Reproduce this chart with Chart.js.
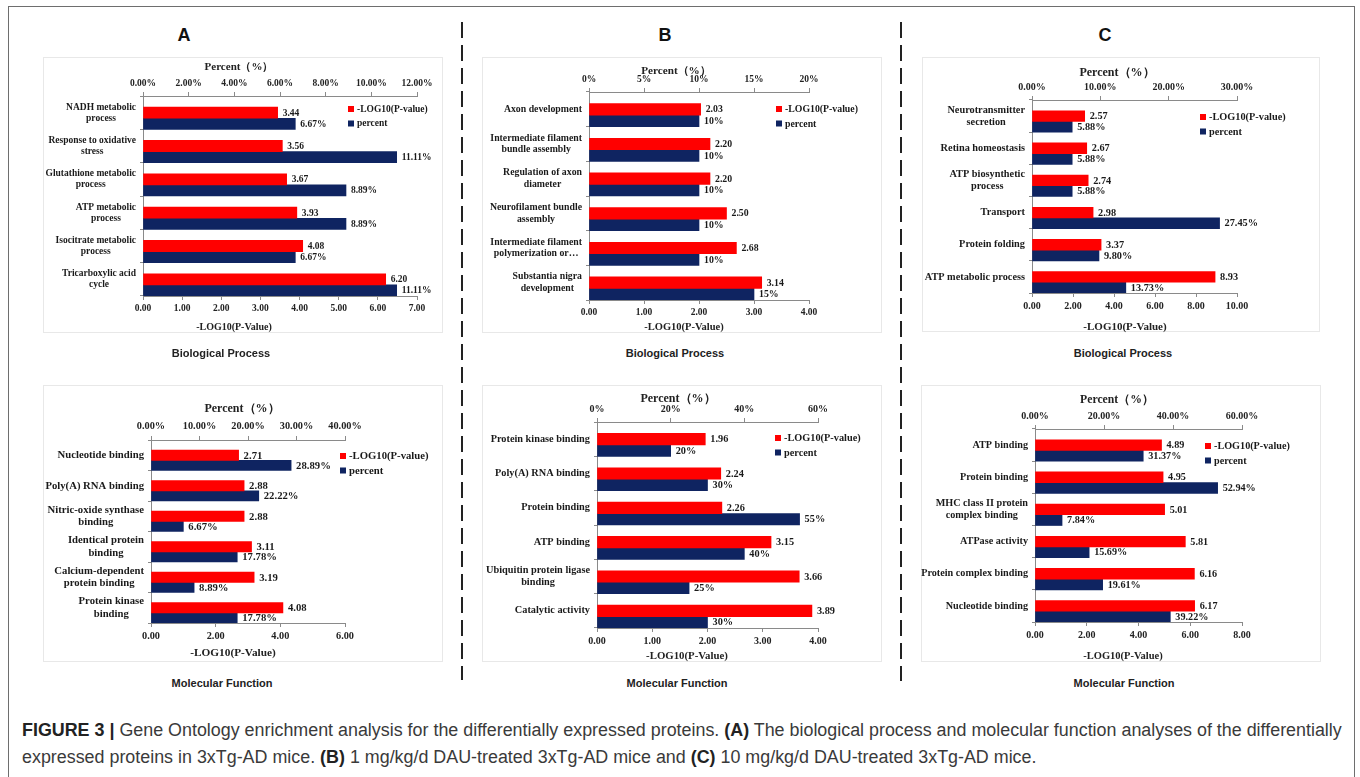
<!DOCTYPE html>
<html lang="en">
<head>
<meta charset="UTF-8">
<title>Gene Ontology enrichment</title>
<script src="https://cdn.jsdelivr.net/npm/chart.js@4.4.1/dist/chart.umd.min.js"></script>
<style>
    html, body {
        margin: 0;
        padding: 0;
        width: 1360px;
        height: 777px;
        overflow: hidden;
        background: #fff;
        position: relative;
        font-family: 'Liberation Sans', Arial, sans-serif;
    }
    .frame {
        position: absolute;
        left: 8px; top: 6px;
        width: 1347px; height: 800px;
        border: 1px solid #6e6e6e;
        box-sizing: border-box;
    }
    .box {
        position: absolute;
        box-shadow: inset 0 0 0 1px #e8e8e8;
    }
    .box canvas { position: absolute; left: 0; top: 0; }
    .t {
        position: absolute;
        transform: translate(-50%, -50%);
        white-space: nowrap;
    }
    .serif {
        font-family: 'Liberation Serif', 'Times New Roman', serif;
        font-weight: bold;
        color: #222;
    }
    .sub { font-weight: bold; font-size: 11px; color: #222; }
    .letter { font-weight: bold; font-size: 18px; color: #111; }
    .dash {
        position: absolute;
        width: 2px;
        background: repeating-linear-gradient(to bottom, #222 0 16px, transparent 16px 23px);
    }
    .cap {
        position: absolute;
        left: 22px;
        font-size: 18px;
        color: #3a3a3a;
        white-space: nowrap;
        transform-origin: left center;
        transform: translateY(-50%);
    }
    .cap b { color: #222; }
</style>
</head>
<body>
<div class="frame"></div>

<div class="dash" style="left:461px; top:22px; height:658px;"></div>
<div class="dash" style="left:900px; top:22px; height:659px;"></div>

<div class="t letter" style="left:184px; top:35px;">A</div>
<div class="t letter" style="left:665px; top:35px;">B</div>
<div class="t letter" style="left:1105px; top:35px;">C</div>

<div class="box" style="left:43px; top:57px; width:400px; height:276px;"><canvas id="aBp" width="400" height="276"></canvas></div>
<div class="box" style="left:482px; top:57px; width:400px; height:276px;"><canvas id="bBp" width="400" height="276"></canvas></div>
<div class="box" style="left:922px; top:57px; width:398px; height:275px;"><canvas id="cBp" width="398" height="275"></canvas></div>
<div class="box" style="left:43px; top:385px; width:400px; height:277px;"><canvas id="aMf" width="400" height="277"></canvas></div>
<div class="box" style="left:482px; top:385px; width:400px; height:277px;"><canvas id="bMf" width="400" height="277"></canvas></div>
<div class="box" style="left:921px; top:385px; width:400px; height:277px;"><canvas id="cMf" width="400" height="277"></canvas></div>

<!-- axis titles -->
<div class="t serif" style="left:239px; top:66px; font-size:11px;">Percent（%）</div>
<div class="t serif" style="left:234px; top:326px; font-size:10px;">-LOG10(P-Value)</div>
<div class="t serif" style="left:676px; top:70px; font-size:11.2px;">Percent（%）</div>
<div class="t serif" style="left:684px; top:326px; font-size:10.5px;">-LOG10(P-Value)</div>
<div class="t serif" style="left:1117px; top:72px; font-size:12px;">Percent（%）</div>
<div class="t serif" style="left:1125px; top:326px; font-size:11px;">-LOG10(P-Value)</div>
<div class="t serif" style="left:242px; top:408px; font-size:12px;">Percent（%）</div>
<div class="t serif" style="left:233px; top:652px; font-size:11.3px;">-LOG10(P-Value)</div>
<div class="t serif" style="left:678px; top:398px; font-size:12px;">Percent（%）</div>
<div class="t serif" style="left:687px; top:655px; font-size:10.8px;">-LOG10(P-Value)</div>
<div class="t serif" style="left:1117px; top:399px; font-size:11.7px;">Percent（%）</div>
<div class="t serif" style="left:1123px; top:655px; font-size:10.5px;">-LOG10(P-Value)</div>

<div class="t sub" style="left:221px; top:353px;">Biological Process</div>
<div class="t sub" style="left:675px; top:353px;">Biological Process</div>
<div class="t sub" style="left:1123px; top:353px;">Biological Process</div>
<div class="t sub" style="left:222px; top:683px;">Molecular Function</div>
<div class="t sub" style="left:677px; top:683px;">Molecular Function</div>
<div class="t sub" style="left:1124px; top:683px;">Molecular Function</div>

<div class="cap" id="cap1" style="top:730px;"><b>FIGURE 3 |</b> Gene Ontology enrichment analysis for the differentially expressed proteins. <b>(A)</b> The biological process and molecular function analyses of the differentially</div>
<div class="cap" id="cap2" style="top:757px;">expressed proteins in 3xTg-AD mice. <b>(B)</b> 1 mg/kg/d DAU-treated 3xTg-AD mice and <b>(C)</b> 10 mg/kg/d DAU-treated 3xTg-AD mice.</div>

<script>
    // A - 3xTg-AD, biological process
    const aBpLabels = [['NADH metabolic', 'process'], ['Response to oxidative', 'stress'], ['Glutathione metabolic', 'process'],
                       ['ATP metabolic', 'process'], ['Isocitrate metabolic', 'process'], ['Tricarboxylic acid', 'cycle']];
    const aBpLog = [3.44, 3.56, 3.67, 3.93, 4.08, 6.20];
    const aBpPct = [6.67, 11.11, 8.89, 8.89, 6.67, 11.11];
    const aBpLogTicks = [0, 1, 2, 3, 4, 5, 6, 7];
    const aBpPctTicks = [0, 2, 4, 6, 8, 10, 12];

    // B - 1 mg/kg/d DAU, biological process
    const bBpLabels = ['Axon development', ['Intermediate filament', 'bundle assembly'], ['Regulation of axon', 'diameter'],
                       ['Neurofilament bundle', 'assembly'], ['Intermediate filament', 'polymerization or…'], ['Substantia nigra', 'development']];
    const bBpLog = [2.03, 2.20, 2.20, 2.50, 2.68, 3.14];
    const bBpPct = [10, 10, 10, 10, 10, 15];
    const bBpLogTicks = [0, 1, 2, 3, 4];
    const bBpPctTicks = [0, 5, 10, 15, 20];

    // C - 10 mg/kg/d DAU, biological process
    const cBpLabels = [['Neurotransmitter', 'secretion'], 'Retina homeostasis', ['ATP biosynthetic', 'process'],
                       'Transport', 'Protein folding', 'ATP metabolic process'];
    const cBpLog = [2.57, 2.67, 2.74, 2.98, 3.37, 8.93];
    const cBpPct = [5.88, 5.88, 5.88, 27.45, 9.80, 13.73];
    const cBpLogTicks = [0, 2, 4, 6, 8, 10];
    const cBpPctTicks = [0, 10, 20, 30];

    // A - molecular function
    const aMfLabels = ['Nucleotide binding', 'Poly(A) RNA binding', ['Nitric-oxide synthase', 'binding'],
                       ['Identical protein', 'binding'], ['Calcium-dependent', 'protein binding'], ['Protein kinase', 'binding']];
    const aMfLog = [2.71, 2.88, 2.88, 3.11, 3.19, 4.08];
    const aMfPct = [28.89, 22.22, 6.67, 17.78, 8.89, 17.78];
    const aMfLogTicks = [0, 2, 4, 6];
    const aMfPctTicks = [0, 10, 20, 30, 40];

    // B - molecular function
    const bMfLabels = ['Protein kinase binding', 'Poly(A) RNA binding', 'Protein binding', 'ATP binding',
                       ['Ubiquitin protein ligase', 'binding'], 'Catalytic activity'];
    const bMfLog = [1.96, 2.24, 2.26, 3.15, 3.66, 3.89];
    const bMfPct = [20, 30, 55, 40, 25, 30];
    const bMfLogTicks = [0, 1, 2, 3, 4];
    const bMfPctTicks = [0, 20, 40, 60];

    // C - molecular function
    const cMfLabels = ['ATP binding', 'Protein binding', ['MHC class II protein', 'complex binding'],
                       'ATPase activity', 'Protein complex binding', 'Nucleotide binding'];
    const cMfLog = [4.89, 4.95, 5.01, 5.81, 6.16, 6.17];
    const cMfPct = [31.37, 52.94, 7.84, 15.69, 19.61, 39.22];
    const cMfLogTicks = [0, 2, 4, 6, 8];
    const cMfPctTicks = [0, 20, 40, 60];

    const seriesNames = ['-LOG10(P-value)', 'percent'];
    const RED = '#ff0000';
    const NAVY = '#0f2461';
    const AXIS = '#8a8a8a';
    const SERIF = "'Liberation Serif', 'Times New Roman', serif";

    Chart.defaults.font.family = SERIF;
    Chart.defaults.font.weight = 'bold';
    Chart.defaults.color = '#222';

    // area = [left, right, top, bottom] of the plot inside the canvas, legend = [x, y]
    // fs = text size for names / values / legend, tk = tick label size
    const panels = [
        { id: 'aBp', w: 400, h: 276, area: [100, 374, 39, 239], legend: [305, 52], fs: 9.5, tk: 9.5, labels: aBpLabels, log: aBpLog, pct: aBpPct, logTicks: aBpLogTicks, pctTicks: aBpPctTicks, dec: 2 },
        { id: 'bBp', w: 400, h: 276, area: [107, 327, 35, 243], legend: [294, 52], fs: 9.8, tk: 9.5, labels: bBpLabels, log: bBpLog, pct: bBpPct, logTicks: bBpLogTicks, pctTicks: bBpPctTicks, dec: 0 },
        { id: 'cBp', w: 398, h: 275, area: [110, 315, 43, 236], legend: [278, 60], fs: 10.3, tk: 10, labels: cBpLabels, log: cBpLog, pct: cBpPct, logTicks: cBpLogTicks, pctTicks: cBpPctTicks, dec: 2 },
        { id: 'aMf', w: 400, h: 277, area: [108, 302, 55, 238], legend: [297, 71], fs: 10.7, tk: 10.3, labels: aMfLabels, log: aMfLog, pct: aMfPct, logTicks: aMfLogTicks, pctTicks: aMfPctTicks, dec: 2 },
        { id: 'bMf', w: 400, h: 277, area: [115, 336, 37, 243], legend: [293, 53], fs: 10.3, tk: 10, labels: bMfLabels, log: bMfLog, pct: bMfPct, logTicks: bMfLogTicks, pctTicks: bMfPctTicks, dec: 0 },
        { id: 'cMf', w: 400, h: 277, area: [114, 321, 44, 237], legend: [284, 61], fs: 10.2, tk: 10, labels: cMfLabels, log: cMfLog, pct: cMfPct, logTicks: cMfLogTicks, pctTicks: cMfPctTicks, dec: 2 }
    ];

    function makePlugins(p) {
        const font = 'bold ' + p.fs + 'px ' + SERIF;

        // category names: block right aligned, lines centred inside the block
        const catLabels = {
            id: 'catLabels',
            afterDraw(chart) {
                const ctx = chart.ctx, ys = chart.scales.y;
                const right = chart.chartArea.left - 7;
                const lh = p.fs * 1.17;
                ctx.save();
                ctx.font = font;
                ctx.fillStyle = '#1a1a1a';
                ctx.textAlign = 'center';
                ctx.textBaseline = 'middle';
                chart.data.labels.forEach((lab, i) => {
                    const lines = Array.isArray(lab) ? lab : [lab];
                    const widest = Math.max(...lines.map(l => ctx.measureText(l).width));
                    const cy = ys.getPixelForTick(i);
                    lines.forEach((l, j) => {
                        ctx.fillText(l, right - widest / 2, cy + (j - (lines.length - 1) / 2) * lh);
                    });
                });
                ctx.restore();
            }
        };

        const valueLabels = {
            id: 'valueLabels',
            afterDatasetsDraw(chart) {
                const ctx = chart.ctx;
                ctx.save();
                ctx.font = font;
                ctx.fillStyle = '#1a1a1a';
                ctx.textAlign = 'left';
                ctx.textBaseline = 'middle';
                chart.data.datasets.forEach((ds, di) => {
                    if (!ds.label) return;
                    chart.getDatasetMeta(di).data.forEach((bar, i) => {
                        const v = ds.data[i];
                        const txt = ds.xAxisID === 'x2' ? v.toFixed(p.dec) + '%' : v.toFixed(2);
                        ctx.fillText(txt, bar.x + 5, bar.y + 0.5);
                    });
                });
                ctx.restore();
            }
        };

        const boxLegend = {
            id: 'boxLegend',
            afterDraw(chart) {
                const ctx = chart.ctx;
                let [x, y] = p.legend;
                ctx.save();
                ctx.font = font;
                ctx.textAlign = 'left';
                ctx.textBaseline = 'middle';
                chart.data.datasets.filter(ds => ds.label).forEach(ds => {
                    ctx.fillStyle = ds.backgroundColor;
                    ctx.fillRect(x, y - 3, 6, 6);
                    ctx.fillStyle = '#1a1a1a';
                    ctx.fillText(ds.label, x + 9, y + 0.5);
                    y += 14.5;
                });
                ctx.restore();
            }
        };
        return [catLabels, valueLabels, boxLegend];
    }

    panels.forEach(p => {
        const ctx = document.getElementById(p.id).getContext('2d');
        new Chart(ctx, {
            type: 'bar',
            data: {
                labels: p.labels,
                datasets: [
                    // empty slot so the two bars sit in the lower part of each band
                    { data: p.log.map(() => 0), xAxisID: 'x', backgroundColor: 'rgba(0,0,0,0)' },
                    { label: seriesNames[0], data: p.log, xAxisID: 'x', backgroundColor: RED },
                    { label: seriesNames[1], data: p.pct, xAxisID: 'x2', backgroundColor: NAVY }
                ]
            },
            options: {
                indexAxis: 'y',
                responsive: false,
                animation: false,
                layout: { padding: { left: 0, top: 0, bottom: 0, right: p.w - p.area[1] } },
                datasets: { bar: { categoryPercentage: 1, barPercentage: 1, borderWidth: 0 } },
                plugins: { legend: { display: false }, tooltip: { enabled: false } },
                scales: {
                    y: {
                        type: 'category',
                        offset: true,
                        grid: { offset: true, drawOnChartArea: false, tickLength: 3, color: AXIS },
                        border: { color: AXIS },
                        ticks: { display: false },
                        afterFit: s => { s.width = p.area[0]; }
                    },
                    x: {
                        type: 'linear',
                        position: 'bottom',
                        min: p.logTicks[0],
                        max: p.logTicks[p.logTicks.length - 1],
                        afterBuildTicks: s => { s.ticks = p.logTicks.map(v => ({ value: v })); },
                        ticks: { font: { size: p.tk }, padding: 3, autoSkip: false, maxRotation: 0,
                                 callback: v => Number(v).toFixed(2) },
                        grid: { drawOnChartArea: false, tickLength: 4, color: AXIS },
                        border: { color: AXIS },
                        afterFit: s => { s.height = p.h - p.area[3]; }
                    },
                    x2: {
                        type: 'linear',
                        position: 'top',
                        min: p.pctTicks[0],
                        max: p.pctTicks[p.pctTicks.length - 1],
                        afterBuildTicks: s => { s.ticks = p.pctTicks.map(v => ({ value: v })); },
                        ticks: { font: { size: p.tk }, padding: 3, autoSkip: false, maxRotation: 0,
                                 callback: v => Number(v).toFixed(p.dec) + '%' },
                        grid: { drawOnChartArea: false, tickLength: 4, color: AXIS },
                        border: { color: AXIS },
                        afterFit: s => { s.height = p.area[2]; }
                    }
                }
            },
            plugins: makePlugins(p)
        });
    });

    // squeeze the caption lines to the figure width
    const cap1 = document.getElementById('cap1');
    const cap2 = document.getElementById('cap2');
    const k = 1320 / cap1.offsetWidth;
    cap1.style.transform = cap2.style.transform = 'translateY(-50%) scaleX(' + k + ')';
</script>
</body>
</html>
